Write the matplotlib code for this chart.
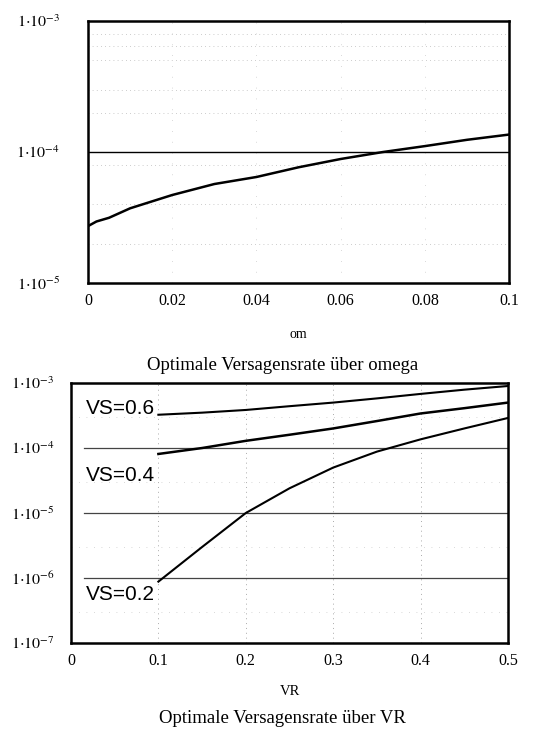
import numpy as np
import matplotlib
matplotlib.use('Agg')
import matplotlib.pyplot as plt

plt.rcParams['mathtext.fontset'] = 'stix'
plt.rcParams['font.family'] = 'Liberation Serif'

# top chart: optimal failure rate over omega
om = [0, 0.002, 0.005, 0.01, 0.02, 0.03, 0.04, 0.05, 0.06, 0.07, 0.08, 0.09, 0.1]
rateOm = [2.72e-5, 2.95e-5, 3.15e-5, 3.72e-5, 4.7e-5, 5.7e-5, 6.45e-5,
          7.65e-5, 8.85e-5, 1.0e-4, 1.11e-4, 1.24e-4, 1.36e-4]
omTicks = [0, 0.02, 0.04, 0.06, 0.08, 0.1]
omTickLabels = ['0', '0.02', '0.04', '0.06', '0.08', '0.1']

# bottom chart: optimal failure rate over VR for three VS values
vr = [0.1, 0.15, 0.2, 0.25, 0.3, 0.35, 0.4, 0.45, 0.5]
rateVs06 = [3.25e-4, 3.5e-4, 3.85e-4, 4.4e-4, 5.0e-4, 5.8e-4, 6.8e-4, 7.9e-4, 9.0e-4]
rateVs04 = [8.1e-5, 1.0e-4, 1.29e-4, 1.6e-4, 2.0e-4, 2.6e-4, 3.4e-4, 4.1e-4, 5.0e-4]
rateVs02 = [8.8e-7, 3.0e-6, 1.0e-5, 2.4e-5, 5.0e-5, 8.8e-5, 1.36e-4, 2.0e-4, 2.9e-4]
vsLabels = ['VS=0.6', 'VS=0.4', 'VS=0.2']
vrTicks = [0, 0.1, 0.2, 0.3, 0.4, 0.5]
vrTickLabels = ['0', '0.1', '0.2', '0.3', '0.4', '0.5']


def logLabel(e):
    return r'$1{\cdot}10^{%d}$' % e


def styleAxes(ax):
    for s in ax.spines.values():
        s.set_linewidth(1.8)
        s.set_color('black')
    ax.tick_params(length=0, labelsize=11.5)
    ax.minorticks_off()


fig = plt.figure(figsize=(5.44, 7.39), dpi=100)

# ---- top plot
ax1 = fig.add_axes([0.1618, 0.617, 0.774, 0.3545])
ax1.set_yscale('log')
ax1.set_xlim(0, 0.1)
ax1.set_ylim(1e-5, 1e-3)
for yv in [2e-5, 4e-5, 8e-5, 2e-4, 3e-4, 5e-4, 6.5e-4, 8e-4]:
    ax1.axhline(yv, color='#bbbbbb', lw=0.6, ls=(0, (1, 4)))
for xv in omTicks[1:-1]:
    ax1.axvline(xv, color='#cccccc', lw=0.6, ls=(0, (1, 12)))
ax1.axhline(1e-4, color='black', lw=1.0)
ax1.plot(om, rateOm, color='black', lw=1.8)
ax1.set_xticks(omTicks)
ax1.set_xticklabels(omTickLabels)
ax1.set_yticks([1e-5, 1e-4, 1e-3])
ax1.set_yticklabels([logLabel(-5), logLabel(-4), logLabel(-3)])
styleAxes(ax1)
ax1.tick_params(axis='y', pad=20)
ax1.tick_params(axis='x', pad=7)
ax1.set_xlabel('om', fontsize=10, labelpad=14)
fig.text(0.52, 0.505, 'Optimale Versagensrate über omega', ha='center', va='center',
         fontsize=13.5)

# ---- bottom plot
ax2 = fig.add_axes([0.1305, 0.1299, 0.8033, 0.3518])
ax2.set_yscale('log')
ax2.set_xlim(0, 0.5)
ax2.set_ylim(1e-7, 1e-3)
for yv in [3e-7, 3e-6, 3e-5, 3e-4]:
    ax2.axhline(yv, color='#cccccc', lw=0.6, ls=(0, (1, 8)))
for xv in vrTicks[1:-1]:
    ax2.axvline(xv, color='#aaaaaa', lw=0.7, ls=(0, (1, 4)))
for yv in [1e-4, 1e-5, 1e-6]:
    ax2.axhline(yv, xmin=0.03, color='#444444', lw=0.9)
ax2.plot(vr, rateVs06, color='black', lw=1.5)
ax2.plot(vr, rateVs04, color='black', lw=1.8)
ax2.plot(vr, rateVs02, color='black', lw=1.5)
ax2.set_xticks(vrTicks)
ax2.set_xticklabels(vrTickLabels)
ax2.set_yticks([1e-7, 1e-6, 1e-5, 1e-4, 1e-3])
ax2.set_yticklabels([logLabel(e) for e in [-7, -6, -5, -4, -3]])
styleAxes(ax2)
ax2.tick_params(axis='y', pad=12)
ax2.tick_params(axis='x', pad=7)
ax2.set_xlabel('VR', fontsize=10.5, labelpad=12)

labelY = [4.0e-4, 3.8e-5, 5.6e-7]
for lbl, yv in zip(vsLabels, labelY):
    ax2.text(0.057, yv, lbl, ha='center', va='center', fontsize=15,
             family='Liberation Sans')

fig.text(0.52, 0.028, 'Optimale Versagensrate über VR', ha='center', va='center',
         fontsize=13.5)

fig.savefig('out.png', dpi=100, facecolor='white')
